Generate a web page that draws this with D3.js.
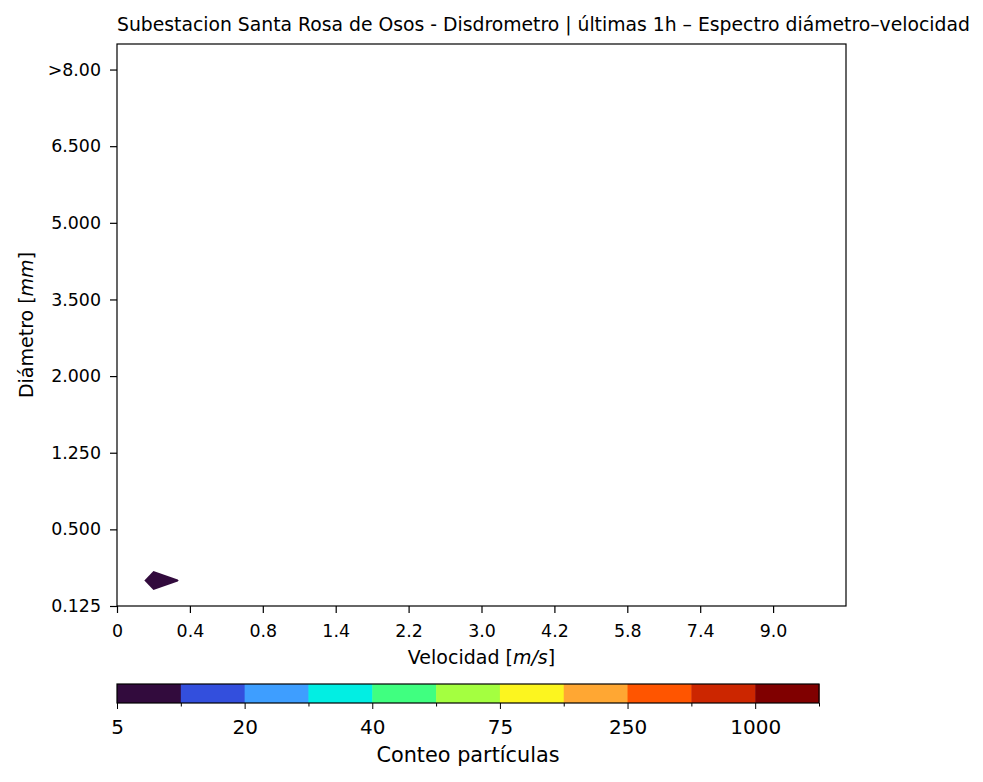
<!doctype html>
<meta charset="utf-8" />
<style>
    body { margin: 0; background: #fff; }
    text { font-family: "DejaVu Sans", sans-serif; fill: #000; }
</style>
<svg></svg>

<script src="https://cdn.jsdelivr.net/npm/d3@7"></script>
<script>
    // velocity / diameter tick labels (one label every 3 bins)
    var velLabels = ['0', '0.4', '0.8', '1.4', '2.2', '3.0', '4.2', '5.8', '7.4', '9.0']
    var diaLabels = ['0.125', '0.500', '1.250', '2.000', '3.500', '5.000', '6.500', '>8.00']
    var nVel = 30, nDia = 23

    // non-zero cells of the spectrum (velocity bin, diameter bin, count)
    var velBin = [1, 2]
    var diaBin = [1, 1]
    var counts = [8, 5.2]

    // contour levels and colours
    var levels = [5, 10, 20, 30, 40, 60, 75, 100, 250, 500, 1000, 2000]
    var levelLabels = ['5', '', '20', '', '40', '', '75', '', '250', '', '1000', '']
    var colors = ['#320b3d', '#334fdd', '#3e9eff', '#02eee3', '#40ff80', '#a4ff40',
        '#fcf51f', '#ffa733', '#ff5500', '#cc2600', '#800000']

    var svg = d3.select('svg')
        .attr('width', 983)
        .attr('height', 782)

    var pL = 117, pR = 846, pT = 44, pB = 606

    var x = d3.scaleLinear().domain([0, nVel]).range([pL, pR])
    var y = d3.scaleLinear().domain([0, nDia - 1]).range([pB, pT])

    // build grid
    var grid = new Array(nVel * nDia).fill(0)
    counts.forEach(function (c, i) {
        grid[diaBin[i] * nVel + velBin[i]] = c
    })

    var contours = d3.contours()
        .size([nVel, nDia])
        .thresholds(levels.slice(0, colors.length))(grid)

    var proj = d3.geoTransform({
        point: function (px, py) {
            this.stream.point(x(px), y(py - 0.5))
        }
    })
    var path = d3.geoPath(proj)

    svg.append('clipPath').attr('id', 'clip')
        .append('rect')
        .attr('x', pL).attr('y', pT)
        .attr('width', pR - pL).attr('height', pB - pT)

    svg.append('g')
        .attr('clip-path', 'url(#clip)')
        .selectAll('path')
        .data(contours)
        .join('path')
        .attr('d', path)
        .style('fill', function (d, i) { return colors[i] })

    svg.append('rect')
        .attr('x', pL).attr('y', pT)
        .attr('width', pR - pL).attr('height', pB - pT)
        .style('fill', 'none')
        .style('stroke', '#000')
        .style('stroke-width', 1.2)

    // axes
    var xAxis = svg.append('g')
        .attr('transform', 'translate(0,' + pB + ')')
        .call(d3.axisBottom(x)
            .tickValues(velLabels.map(function (d, i) { return i * 3 }))
            .tickFormat(function (d, i) { return velLabels[i] })
            .tickSize(7).tickPadding(12))
    xAxis.select('.domain').remove()

    var yAxis = svg.append('g')
        .attr('transform', 'translate(' + pL + ',0)')
        .call(d3.axisLeft(y)
            .tickValues(diaLabels.map(function (d, i) { return i * 3 }))
            .tickFormat(function (d, i) { return diaLabels[i] })
            .tickSize(7).tickPadding(9))
    yAxis.select('.domain').remove()

    svg.selectAll('.tick line').style('stroke', '#000').style('stroke-width', 1.2)
    svg.selectAll('.tick text').style('font-size', '17.4px').style('font-family', '"DejaVu Sans", sans-serif')

    var xl = svg.append('text')
        .attr('x', (pL + pR) / 2)
        .attr('y', 664)
        .attr('text-anchor', 'middle')
        .style('font-size', '19px')
    xl.append('tspan').text('Velocidad [')
    xl.append('tspan').style('font-style', 'italic').text('m/s')
    xl.append('tspan').text(']')

    var yl = svg.append('text')
        .attr('transform', 'translate(33,' + (pT + pB) / 2 + ') rotate(-90)')
        .attr('text-anchor', 'middle')
        .style('font-size', '19px')
    yl.append('tspan').text('Diámetro [')
    yl.append('tspan').style('font-style', 'italic').text('mm')
    yl.append('tspan').text(']')

    svg.append('text')
        .attr('x', pL)
        .attr('y', 31)
        .style('font-size', '18.8px')
        .text('Subestacion Santa Rosa de Osos - Disdrometro | últimas 1h – Espectro diámetro–velocidad')

    // colorbar
    var cbL = 117, cbR = 819, cbT = 684, cbB = 703
    var cb = d3.scaleLinear().domain([0, colors.length]).range([cbL, cbR])
    svg.append('g').selectAll('rect')
        .data(colors)
        .join('rect')
        .attr('x', function (d, i) { return cb(i) })
        .attr('y', cbT)
        .attr('width', cb(1) - cb(0) + 0.5)
        .attr('height', cbB - cbT)
        .style('fill', function (d) { return d })
    svg.append('rect')
        .attr('x', cbL).attr('y', cbT)
        .attr('width', cbR - cbL).attr('height', cbB - cbT)
        .style('fill', 'none').style('stroke', '#000').style('stroke-width', 1.2)

    var cbAxis = svg.append('g')
        .attr('transform', 'translate(0,' + cbB + ')')
        .call(d3.axisBottom(cb)
            .tickValues(d3.range(levels.length))
            .tickFormat(function (d) { return levelLabels[d] })
            .tickSize(6).tickPadding(11))
    cbAxis.select('.domain').remove()
    cbAxis.selectAll('.tick line')
        .attr('y2', function (d) { return levelLabels[d] ? 6 : 3.5 })
    cbAxis.selectAll('.tick text').style('font-size', '20px')

    svg.append('text')
        .attr('x', (cbL + cbR) / 2)
        .attr('y', 762)
        .attr('text-anchor', 'middle')
        .style('font-size', '20.8px')
        .text('Conteo partículas')
</script>
